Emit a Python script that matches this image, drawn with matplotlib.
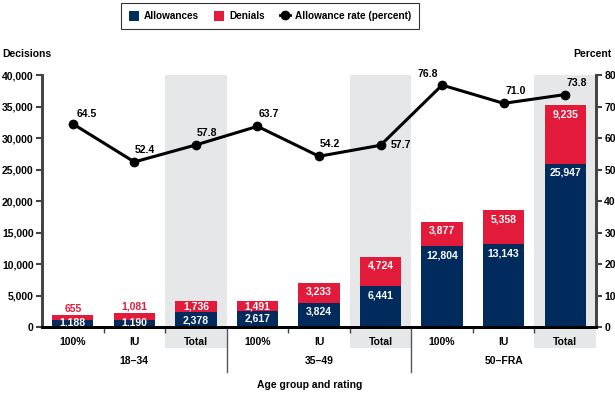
import numpy as np
import matplotlib
matplotlib.use("Agg")
import matplotlib.pyplot as plt
from matplotlib.patches import Patch, Rectangle
from matplotlib.lines import Line2D
import matplotlib.transforms as mtrans

plt.rcParams['font.family'] = ['Liberation Sans', 'DejaVu Sans']
plt.rcParams['font.weight'] = 'bold'
plt.rcParams['font.size'] = 7.5

ratings = ["100%", "IU", "Total", "100%", "IU", "Total", "100%", "IU", "Total"]
groups = ["18\u201334", "35\u201349", "50\u2013FRA"]
allowances = [1188, 1190, 2378, 2617, 3824, 6441, 12804, 13143, 25947]
denials = [655, 1081, 1736, 1491, 3233, 4724, 3877, 5358, 9235]
rate = [64.5, 52.4, 57.8, 63.7, 54.2, 57.7, 76.8, 71.0, 73.8]

NAVY = "#002b5c"
RED = "#e31b3b"
GRAY = "#e6e7e8"
FS = 7.5

fig = plt.figure(figsize=(6.15, 3.93), dpi=100)
ax = fig.add_axes([42/615, 1-327/393, 554/615, 252/393])
ax2 = ax.twinx()

x = np.arange(len(ratings))
w = 0.67

# gray shading behind the Total columns
tr = mtrans.blended_transform_factory(ax.transData, ax.transAxes)
for i, r in enumerate(ratings):
    if r == "Total":
        ax.add_patch(Rectangle((i-0.5, -21/252), 1, 1+21/252, transform=tr,
                               facecolor=GRAY, edgecolor="none", zorder=0, clip_on=False))

ax.bar(x, allowances, w, color=NAVY, zorder=2)
ax.bar(x, denials, w, bottom=allowances, color=RED, zorder=2)

for i in range(len(x)):
    a = allowances[i]
    d = denials[i]
    if a + d < 3000:
        ax.annotate(f"{d:,}", (x[i], a + d), xytext=(0, 6), textcoords="offset pixels",
                    ha="center", va="center", color=RED, fontsize=FS)
        ax.annotate(f"{a:,}", (x[i], a), xytext=(0, -3), textcoords="offset pixels",
                    ha="center", va="center", color="white", fontsize=FS)
    elif a + d < 5000:
        ax.annotate(f"{d:,}", (x[i], a + d), xytext=(0, -5), textcoords="offset pixels",
                    ha="center", va="center", color="white", fontsize=FS)
        ax.annotate(f"{a:,}", (x[i], a), xytext=(0, -8), textcoords="offset pixels",
                    ha="center", va="center", color="white", fontsize=FS)
    else:
        ax.annotate(f"{d:,}", (x[i], a + d), xytext=(0, -9), textcoords="offset pixels",
                    ha="center", va="center", color="white", fontsize=FS)
        ax.annotate(f"{a:,}", (x[i], a), xytext=(0, -9), textcoords="offset pixels",
                    ha="center", va="center", color="white", fontsize=FS)

ax.set_xlim(-0.5, len(x) - 0.5)
ax.set_ylim(0, 40000)
ax.set_yticks(np.arange(0, 40001, 5000))
ax.set_yticklabels([f"{v:,}" for v in range(0, 40001, 5000)])
ax2.set_ylim(0, 80)
ax2.set_yticks(np.arange(0, 81, 10))

ax.set_xticks(x)
ax.set_xticklabels(ratings)
ax.tick_params(axis="x", length=0, pad=7, labelsize=FS)
ax.set_xticks([0.5, 1.5, 3.5, 4.5, 6.5, 7.5], minor=True)
ax.tick_params(axis="x", which="minor", length=4, width=1, color="#444444")
ax.tick_params(axis="y", length=4, width=1.5, color="#444444", labelsize=FS, pad=2)
ax2.tick_params(axis="y", length=4, width=1.5, color="#444444", labelsize=FS, pad=2)

for a_ in (ax, ax2):
    a_.spines["top"].set_visible(False)
    a_.spines["left"].set_linewidth(2)
    a_.spines["left"].set_color("#444444")
    a_.spines["right"].set_linewidth(2)
    a_.spines["right"].set_color("#444444")
    a_.spines["bottom"].set_linewidth(2)
    a_.spines["bottom"].set_color("black")

# group separators and labels
for sx in (2.5, 5.5):
    ax.plot([sx, sx], [0, -45/252], transform=tr, color="#555555", lw=1, clip_on=False)
for gi, g in enumerate(groups):
    ax.text(gi*3 + 1, -34/252, g, transform=tr, ha="center", va="center", fontsize=FS)
fig.text(310/615, 1-385/393, "Age group and rating", ha="center", va="center", fontsize=FS)

# allowance rate line
ax2.plot(x, rate, color="black", lw=2.2, marker="o", markersize=6, zorder=5)
offsets = [(14, 10), (10, 12), (11, 12), (11, 12), (11, 12), (20, 0), (-14, 11), (12, 12), (12, 12)]
for i, v in enumerate(rate):
    ax2.annotate(f"{v:.1f}", (x[i], v), xytext=offsets[i], textcoords="offset pixels",
                 ha="center", va="center", fontsize=FS)

fig.text(2/615, 1-54/393, "Decisions", ha="left", va="center", fontsize=FS)
fig.text(612/615, 1-54/393, "Percent", ha="right", va="center", fontsize=FS)

handles = [Patch(facecolor=NAVY), Patch(facecolor=RED),
           Line2D([0], [0], color="black", lw=2, marker="o", markersize=6)]
fig.legend(handles, ["Allowances", "Denials", "Allowance rate (percent)"],
           loc="center", bbox_to_anchor=(270/615, 1-16/393), ncol=3, frameon=True,
           fancybox=False, edgecolor="black", fontsize=7.2, handlelength=1.0,
           handleheight=1.1, columnspacing=1.5, handletextpad=0.5, borderpad=0.8)
fig.legends[0].get_frame().set_linewidth(0.8)

fig.savefig("out.png", dpi=100)
